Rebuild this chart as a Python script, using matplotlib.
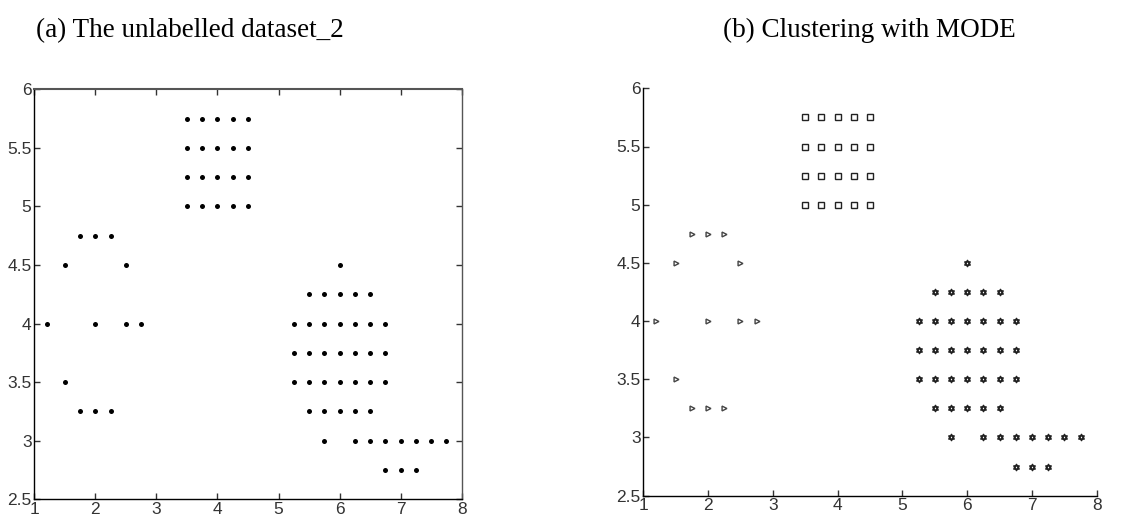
import matplotlib
matplotlib.use("Agg")
import matplotlib.pyplot as plt
from matplotlib.path import Path
import numpy as np

# ---- data ----
# cluster 1 (top block)
c1_x = [3.5, 3.75, 4.0, 4.25, 4.5] * 4
c1_y = [5.0] * 5 + [5.25] * 5 + [5.5] * 5 + [5.75] * 5
# cluster 2 (left ring)
c2_x = [1.2, 1.5, 1.5, 1.75, 2.0, 2.25, 2.5, 2.0, 2.5, 2.75, 1.75, 2.0, 2.25]
c2_y = [4.0, 4.5, 3.5, 4.75, 4.75, 4.75, 4.5, 4.0, 4.0, 4.0, 3.25, 3.25, 3.25]
# cluster 3 (bottom right)
c3_x = ([6.0]
        + [5.5, 5.75, 6.0, 6.25, 6.5]
        + [5.25, 5.5, 5.75, 6.0, 6.25, 6.5, 6.75]
        + [5.25, 5.5, 5.75, 6.0, 6.25, 6.5, 6.75]
        + [5.25, 5.5, 5.75, 6.0, 6.25, 6.5, 6.75]
        + [5.5, 5.75, 6.0, 6.25, 6.5]
        + [5.75, 6.25, 6.5, 6.75, 7.0, 7.25, 7.5, 7.75]
        + [6.75, 7.0, 7.25])
c3_y = ([4.5] + [4.25] * 5 + [4.0] * 7 + [3.75] * 7 + [3.5] * 7
        + [3.25] * 5 + [3.0] * 8 + [2.75] * 3)

xticks = [1, 2, 3, 4, 5, 6, 7, 8]
yticks = [2.5, 3, 3.5, 4, 4.5, 5, 5.5, 6]
ytick_labels = ["2.5", "3", "3.5", "4", "4.5", "5", "5.5", "6"]
title_a = "(a) The unlabelled dataset_2"
title_b = "(b) Clustering with MODE"

# hexagram marker: two overlapping triangles
ang_up = np.deg2rad([90, 210, 330])
ang_dn = np.deg2rad([270, 30, 150])
verts = []
codes = []
for angs in (ang_up, ang_dn):
    pts = [(np.cos(a), np.sin(a)) for a in angs]
    verts += pts + [pts[0]]
    codes += [Path.MOVETO, Path.LINETO, Path.LINETO, Path.CLOSEPOLY]
hexagram = Path(verts, codes)

tick_font = ["Liberation Sans Narrow", "Liberation Sans", "DejaVu Sans"]

fig = plt.figure(figsize=(11.41, 5.19), dpi=100)
W, H = 1141, 519

def make_axes(l, r, t, b):
    return fig.add_axes([l / W, (H - b) / H, (r - l) / W, (b - t) / H])

ax1 = make_axes(34.3, 461.7, 89.3, 499.3)
ax2 = make_axes(643.3, 1096.7, 88.3, 495.7)

all_x = c1_x + c2_x + c3_x
all_y = c1_y + c2_y + c3_y
ax1.plot(all_x, all_y, linestyle="none", marker="o", markersize=3.6,
         color="black", markeredgewidth=0)

ax2.plot(c1_x, c1_y, linestyle="none", marker="s", markersize=4,
         markerfacecolor="none", markeredgecolor="#222222", markeredgewidth=1.0)
ax2.plot(c2_x, c2_y, linestyle="none", marker=">", markersize=3.5,
         markerfacecolor="none", markeredgecolor="#444444", markeredgewidth=1.0)
ax2.plot(c3_x, c3_y, linestyle="none", marker=hexagram, markersize=4.6,
         markerfacecolor="none", markeredgecolor="#222222", markeredgewidth=1.0)

for ax in (ax1, ax2):
    ax.set_xlim(1, 8)
    ax.set_ylim(2.5, 6)
    ax.set_xticks(xticks)
    ax.set_yticks(yticks)
    ax.set_xticklabels([str(v) for v in xticks], family=tick_font, fontsize=12.5, color="#333333")
    ax.set_yticklabels(ytick_labels, family=tick_font, fontsize=12.5, color="#333333")
    ax.tick_params(direction="in", length=4, width=1, pad=2, colors="#333333",
                   labelcolor="#333333")
    for s in ax.spines.values():
        s.set_linewidth(1.0)
        s.set_color("black")

ax1.tick_params(top=True, right=True)
ax1.spines["top"].set_color("#555555")
ax1.spines["right"].set_color("#555555")
ax1.spines["top"].set_linewidth(1.5)
ax1.spines["right"].set_linewidth(1.0)
ax2.spines["top"].set_visible(False)
ax2.spines["right"].set_visible(False)

fig.text(190 / W, (H - 37) / H, title_a, family=["Liberation Serif", "DejaVu Serif"],
         fontsize=19.5, ha="center", va="baseline")
fig.text(869 / W, (H - 37) / H, title_b, family=["Liberation Serif", "DejaVu Serif"],
         fontsize=19.5, ha="center", va="baseline")

fig.savefig("out.png", dpi=100)
